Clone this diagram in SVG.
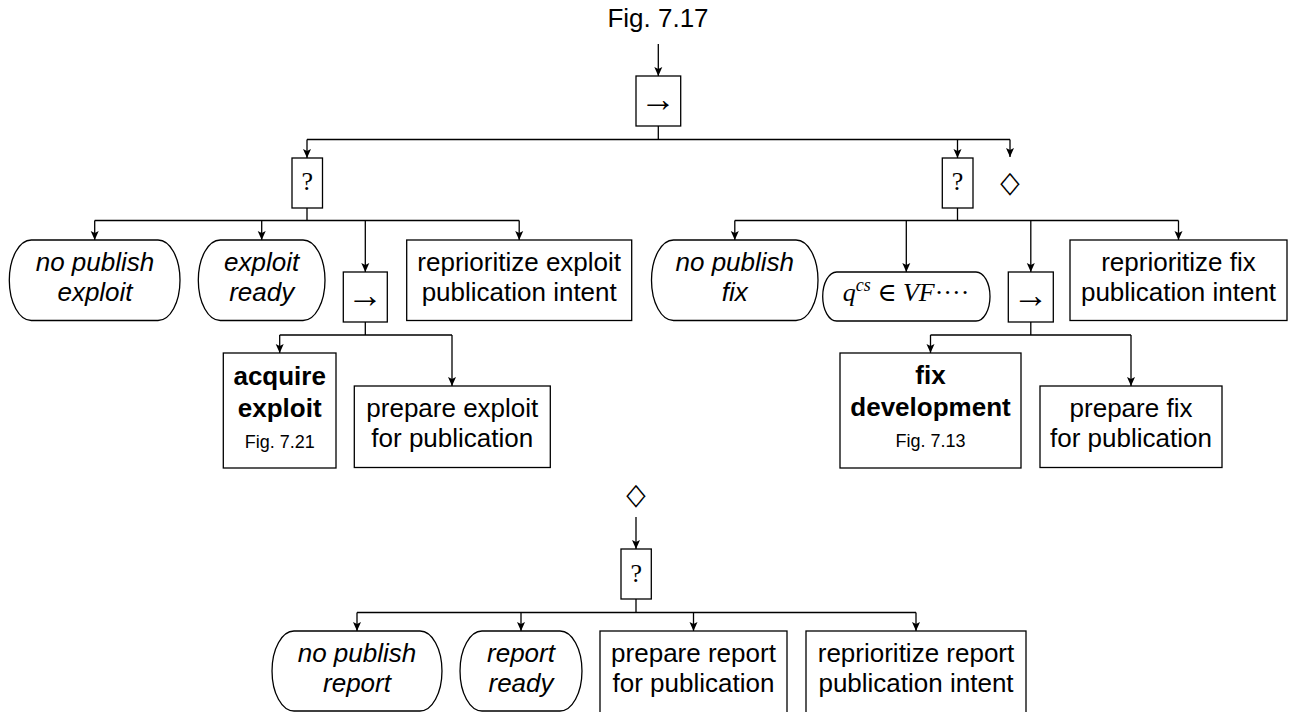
<svg xmlns="http://www.w3.org/2000/svg" width="1296" height="712" viewBox="0 0 1296 712">
<defs>
<style>
.n{fill:#fff;stroke:#000;stroke-width:1.3}
.c{fill:none;stroke:#000;stroke-width:1.3}
.a{fill:none;stroke:#000;stroke-width:1.3;marker-end:url(#ah)}
.t{font-family:"Liberation Sans",Arial,sans-serif;font-size:26px;fill:#000;text-anchor:middle}
.i{font-style:italic}
.b{font-weight:bold}
.s{font-size:18px}
.m{font-family:"Liberation Serif","DejaVu Serif",serif;font-size:26px;fill:#000;text-anchor:middle}
.r{font-family:"Liberation Serif","DejaVu Serif",serif;font-size:36px;fill:#000;text-anchor:middle}
.d{font-family:"DejaVu Sans",sans-serif;font-size:24px;fill:#000;text-anchor:middle;dominant-baseline:central}
</style>
<marker id="ah" markerUnits="userSpaceOnUse" viewBox="0 0 10 10" refX="10" refY="5" markerWidth="10" markerHeight="10" orient="auto">
<path d="M1,1 L10,5 L1,9 L3,5 Z" fill="#000"/>
</marker>
</defs>
<rect width="1296" height="712" fill="#fff"/>
<text class="t" x="658" y="27" font-size="25">Fig. 7.17</text>
<g id="connectors">
<path class="a" d="M658.3,44 V76"/>
<path class="c" d="M658.3,126 V139.5 M307,139.5 H1010"/>
<path class="a" d="M307,139.5 V158"/>
<path class="a" d="M957.5,139.5 V158"/>
<path class="a" d="M1010,139.5 V157"/>
<path class="c" d="M307,208 V220.5 M94.7,220.5 H519.2"/>
<path class="a" d="M94.7,220.5 V240"/>
<path class="a" d="M261.7,220.5 V240"/>
<path class="a" d="M365.3,220.5 V272"/>
<path class="a" d="M519.2,220.5 V240"/>
<path class="c" d="M365.3,322 V335 M279.7,335 H452"/>
<path class="a" d="M279.7,335 V353"/>
<path class="a" d="M452,335 V386"/>
<path class="c" d="M957.5,208 V220.5 M734.8,220.5 H1178.5"/>
<path class="a" d="M734.8,220.5 V240"/>
<path class="a" d="M906.3,220.5 V272"/>
<path class="a" d="M1030.8,220.5 V272"/>
<path class="a" d="M1178.5,220.5 V240"/>
<path class="c" d="M1030.8,322 V335 M930.5,335 H1131"/>
<path class="a" d="M930.5,335 V353"/>
<path class="a" d="M1131,335 V386"/>
<path class="a" d="M636,517 V549"/>
<path class="c" d="M636,599 V612.5 M357,612.5 H916"/>
<path class="a" d="M357,612.5 V631"/>
<path class="a" d="M521,612.5 V631"/>
<path class="a" d="M693.5,612.5 V631"/>
<path class="a" d="M916,612.5 V631"/>
</g>
<g id="root">
<rect class="n" x="636" y="76" width="44.7" height="50"/>
<text class="r" x="658.3" y="111">→</text>
</g>
<g id="sel-exploit">
<rect class="n" x="292" y="158" width="30.5" height="50"/>
<text class="m" x="307.2" y="190">?</text>
</g>
<g id="no-publish-exploit">
<path class="n" d="M31.3,240 H158 A22,40.25 0 0 1 158,320.5 H31.3 A22,40.25 0 0 1 31.3,240 Z"/>
<text class="t i" x="95" y="271">no publish</text>
<text class="t i" x="95" y="301">exploit</text>
</g>
<g id="exploit-ready">
<path class="n" d="M220.3,240 H303 A22,40.25 0 0 1 303,320.5 H220.3 A22,40.25 0 0 1 220.3,240 Z"/>
<text class="t i" x="261.7" y="271">exploit</text>
<text class="t i" x="261.7" y="301">ready</text>
</g>
<g id="seq-exploit">
<rect class="n" x="343.3" y="272" width="44" height="50"/>
<text class="r" x="365.3" y="307">→</text>
</g>
<g id="reprioritize-exploit">
<rect class="n" x="406.7" y="240" width="225" height="80.5"/>
<text class="t" x="519.2" y="271">reprioritize exploit</text>
<text class="t" x="519.2" y="301">publication intent</text>
</g>
<g id="acquire-exploit">
<rect class="n" x="223.3" y="353" width="112.7" height="115"/>
<text class="t b" x="279.7" y="385">acquire</text>
<text class="t b" x="279.7" y="416.5">exploit</text>
<text class="t s" x="279.7" y="448">Fig. 7.21</text>
</g>
<g id="prepare-exploit">
<rect class="n" x="354.3" y="386" width="196" height="81.5"/>
<text class="t" x="452.3" y="416.5">prepare exploit</text>
<text class="t" x="452.3" y="446.5">for publication</text>
</g>
<g id="sel-fix">
<rect class="n" x="942.3" y="158" width="30.7" height="50"/>
<text class="m" x="957.6" y="190">?</text>
</g>
<g id="par">
<text class="d" transform="translate(1010,182) scale(1.05,1.25)" x="0" y="0">◇</text>
</g>
<g id="no-publish-fix">
<path class="n" d="M673.5,240 H796 A22,40.25 0 0 1 796,320.5 H673.5 A22,40.25 0 0 1 673.5,240 Z"/>
<text class="t i" x="734.8" y="271">no publish</text>
<text class="t i" x="734.8" y="301">fix</text>
</g>
<g id="q-cs">
<path class="n" d="M836.7,272 H976 A14,24.5 0 0 1 976,321 H836.7 A14,24.5 0 0 1 836.7,272 Z"/>
<text class="m" x="906" y="301"><tspan font-style="italic">q</tspan><tspan font-style="italic" font-size="18" dy="-10">cs</tspan><tspan dy="10"> ∈ </tspan><tspan font-style="italic">VF</tspan>····</text>
</g>
<g id="seq-fix">
<rect class="n" x="1008.3" y="272" width="45" height="50"/>
<text class="r" x="1030.8" y="307">→</text>
</g>
<g id="reprioritize-fix">
<rect class="n" x="1070" y="240" width="217" height="80.5"/>
<text class="t" x="1178.5" y="271">reprioritize fix</text>
<text class="t" x="1178.5" y="301">publication intent</text>
</g>
<g id="fix-development">
<rect class="n" x="840" y="353" width="181" height="115"/>
<text class="t b" x="930.5" y="384">fix</text>
<text class="t b" x="930.5" y="416">development</text>
<text class="t s" x="930.5" y="447">Fig. 7.13</text>
</g>
<g id="prepare-fix">
<rect class="n" x="1040" y="386" width="182" height="81.5"/>
<text class="t" x="1131" y="416.5">prepare fix</text>
<text class="t" x="1131" y="446.5">for publication</text>
</g>
<g id="par-bottom">
<text class="d" transform="translate(636,494) scale(1.05,1.25)" x="0" y="0">◇</text>
</g>
<g id="sel-report">
<rect class="n" x="621" y="549" width="30.3" height="50"/>
<text class="m" x="636.2" y="581.5">?</text>
</g>
<g id="no-publish-report">
<path class="n" d="M294,631 H420 A22,40 0 0 1 420,711 H294 A22,40 0 0 1 294,631 Z"/>
<text class="t i" x="357" y="662">no publish</text>
<text class="t i" x="357" y="692">report</text>
</g>
<g id="report-ready">
<path class="n" d="M482,631 H560 A22,40 0 0 1 560,711 H482 A22,40 0 0 1 482,631 Z"/>
<text class="t i" x="521" y="662">report</text>
<text class="t i" x="521" y="692">ready</text>
</g>
<g id="prepare-report">
<rect class="n" x="600" y="631" width="187" height="82"/>
<text class="t" x="693.5" y="662">prepare report</text>
<text class="t" x="693.5" y="692">for publication</text>
</g>
<g id="reprioritize-report">
<rect class="n" x="806" y="631" width="220" height="82"/>
<text class="t" x="916" y="662">reprioritize report</text>
<text class="t" x="916" y="692">publication intent</text>
</g>
</svg>
